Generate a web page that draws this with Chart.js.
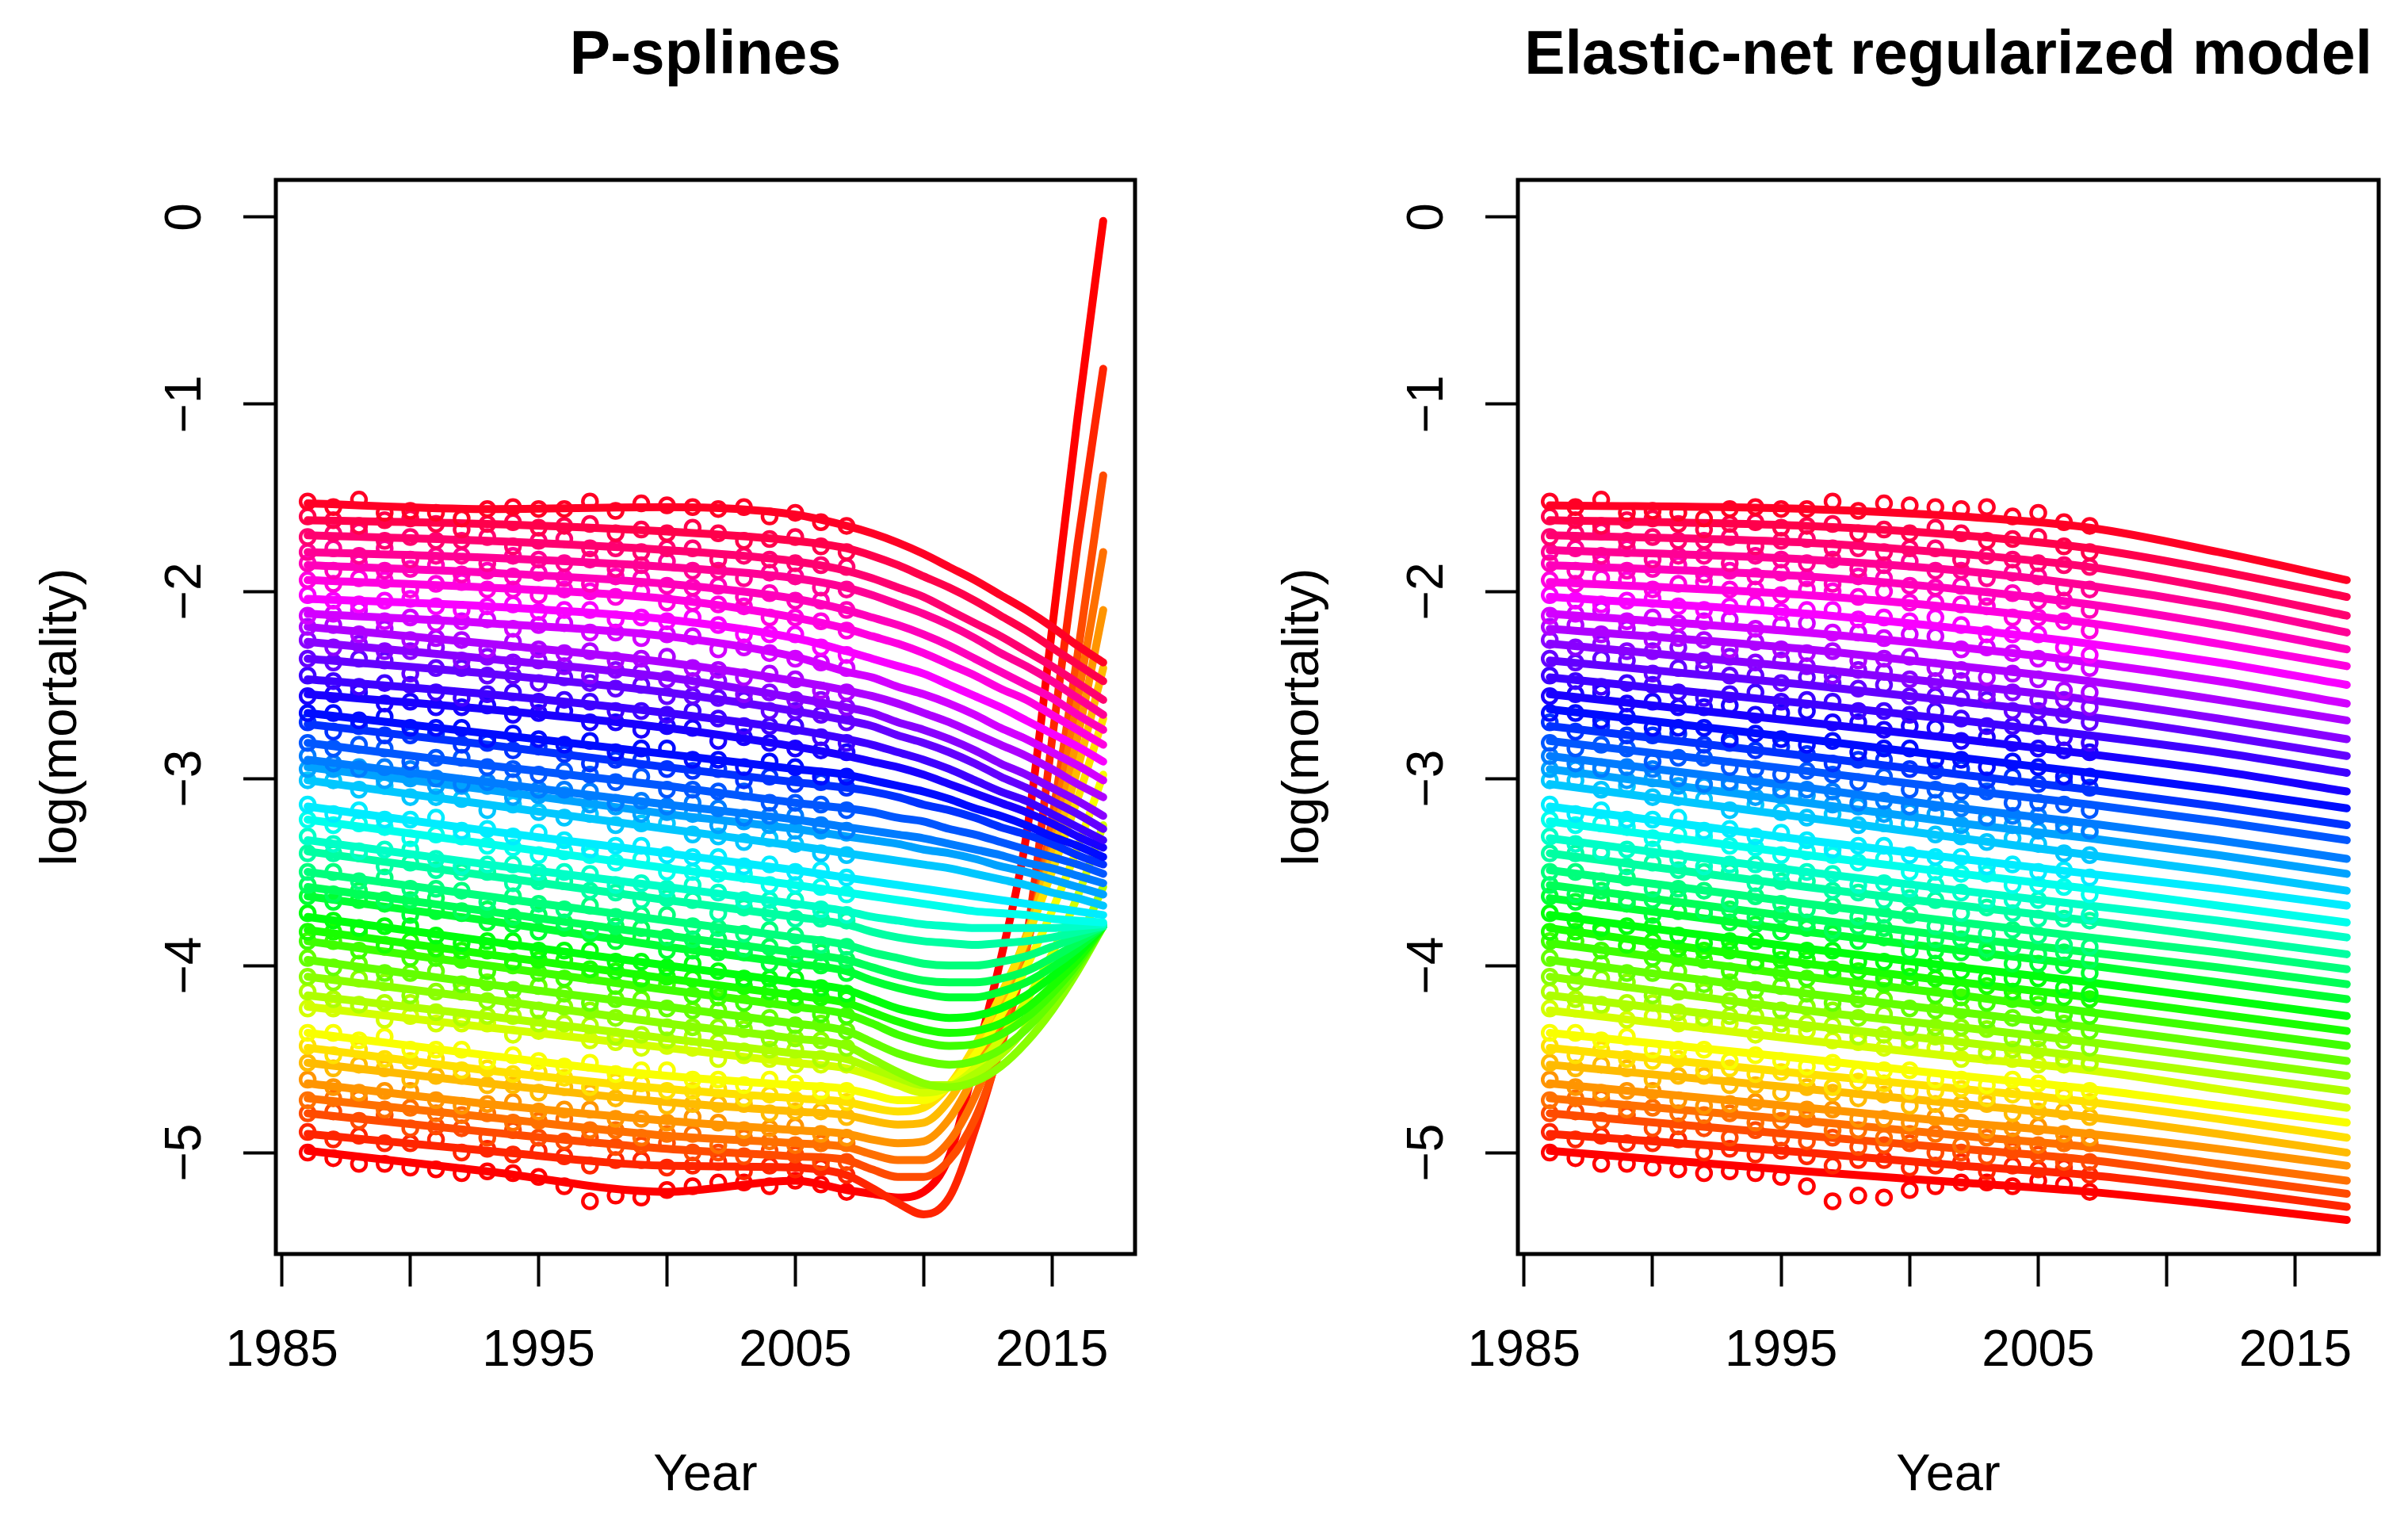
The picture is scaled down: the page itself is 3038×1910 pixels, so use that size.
<!DOCTYPE html>
<html>
<head>
<meta charset="UTF-8">
<title>P-splines vs Elastic-net regularized model</title>
<script src="https://cdn.jsdelivr.net/npm/chart.js@4/dist/chart.umd.min.js"></script>
<style>
  html, body { margin: 0; padding: 0; background: #fff; }
  .panel { position: absolute; top: 0; width: 1519px; height: 1910px; }
</style>
</head>
<body>
<div class="panel" style="left:0"><canvas id="left" width="1519" height="1910"></canvas></div>
<div class="panel" style="left:1519px"><canvas id="right" width="1519" height="1910"></canvas></div>
<script>
// years of the observed log death rates (circles)
const obsYears = [1986, 1987, 1988, 1989, 1990, 1991, 1992, 1993, 1994, 1995, 1996,
  1997, 1998, 1999, 2000, 2001, 2002, 2003, 2004, 2005, 2006, 2007];
// years at which the fitted curves are read
const psYears = [1986, 1993, 2000, 2005, 2007, 2008, 2009, 2010, 2011, 2012, 2013, 2014, 2015, 2016, 2017];
const enYears = [1986, 1996, 2002, 2007, 2012, 2017];

const xTicks = [1985, 1990, 1995, 2000, 2005, 2010, 2015];
const xTickLabels = ['1985', '', '1995', '', '2005', '', '2015'];
const yTicks = [0, -1, -2, -3, -4, -5];

// observed log(mortality), one row per age (lowest row = youngest age)
const obs = [
  [-5.00, -5.03, -5.06, -5.06, -5.08, -5.09, -5.11, -5.10, -5.11, -5.13, -5.18, -5.26, -5.23, -5.24, -5.20, -5.18, -5.16, -5.16, -5.18, -5.15, -5.17, -5.21],
  [-4.89, -4.93, -4.91, -4.95, -4.95, -4.93, -5.00, -4.98, -5.01, -4.99, -5.02, -5.07, -5.04, -5.04, -5.08, -5.07, -5.05, -5.10, -5.07, -5.09, -5.08, -5.12],
  [-4.79, -4.78, -4.83, -4.80, -4.87, -4.86, -4.87, -4.92, -4.88, -4.92, -4.94, -4.92, -4.97, -4.96, -4.95, -5.00, -5.00, -5.02, -4.99, -5.01, -5.05, -5.05],
  [-4.72, -4.71, -4.71, -4.77, -4.76, -4.79, -4.80, -4.79, -4.84, -4.83, -4.82, -4.88, -4.88, -4.92, -4.90, -4.90, -4.96, -4.92, -4.94, -4.96, -4.95, -4.95],
  [-4.61, -4.65, -4.68, -4.67, -4.67, -4.72, -4.75, -4.74, -4.73, -4.78, -4.77, -4.77, -4.82, -4.82, -4.84, -4.81, -4.84, -4.88, -4.87, -4.86, -4.90, -4.92],
  [-4.52, -4.55, -4.53, -4.55, -4.61, -4.59, -4.59, -4.64, -4.64, -4.68, -4.65, -4.68, -4.71, -4.69, -4.75, -4.74, -4.74, -4.74, -4.79, -4.78, -4.78, -4.81],
  [-4.43, -4.48, -4.45, -4.50, -4.51, -4.50, -4.56, -4.55, -4.58, -4.57, -4.60, -4.65, -4.62, -4.63, -4.67, -4.67, -4.66, -4.71, -4.69, -4.72, -4.70, -4.73],
  [-4.36, -4.36, -4.40, -4.38, -4.45, -4.45, -4.45, -4.51, -4.48, -4.51, -4.54, -4.52, -4.58, -4.56, -4.56, -4.61, -4.61, -4.64, -4.61, -4.63, -4.67, -4.67],
  [-4.23, -4.23, -4.22, -4.29, -4.27, -4.31, -4.31, -4.31, -4.37, -4.35, -4.35, -4.40, -4.41, -4.44, -4.43, -4.44, -4.50, -4.48, -4.50, -4.53, -4.53, -4.53],
  [-4.14, -4.18, -4.21, -4.20, -4.20, -4.25, -4.28, -4.27, -4.27, -4.31, -4.31, -4.32, -4.38, -4.37, -4.40, -4.38, -4.41, -4.46, -4.45, -4.45, -4.50, -4.52],
  [-4.06, -4.09, -4.07, -4.09, -4.16, -4.14, -4.14, -4.19, -4.20, -4.24, -4.22, -4.24, -4.28, -4.26, -4.33, -4.33, -4.33, -4.34, -4.39, -4.39, -4.40, -4.44],
  [-3.96, -4.01, -3.99, -4.04, -4.04, -4.03, -4.10, -4.09, -4.13, -4.11, -4.15, -4.20, -4.18, -4.18, -4.23, -4.24, -4.24, -4.29, -4.28, -4.32, -4.31, -4.35],
  [-3.87, -3.87, -3.92, -3.90, -3.96, -3.96, -3.97, -4.03, -4.00, -4.04, -4.07, -4.05, -4.11, -4.10, -4.10, -4.16, -4.17, -4.20, -4.18, -4.21, -4.26, -4.27],
  [-3.82, -3.82, -3.82, -3.89, -3.87, -3.91, -3.92, -3.92, -3.98, -3.97, -3.97, -4.02, -4.03, -4.07, -4.06, -4.07, -4.14, -4.11, -4.14, -4.17, -4.17, -4.18],
  [-3.72, -3.76, -3.80, -3.79, -3.79, -3.84, -3.88, -3.87, -3.87, -3.92, -3.92, -3.92, -3.98, -3.98, -4.01, -3.99, -4.03, -4.07, -4.07, -4.07, -4.12, -4.15],
  [-3.63, -3.66, -3.65, -3.67, -3.73, -3.71, -3.72, -3.77, -3.78, -3.82, -3.80, -3.83, -3.87, -3.85, -3.92, -3.92, -3.93, -3.93, -3.99, -3.99, -4.00, -4.04],
  [-3.57, -3.62, -3.60, -3.65, -3.65, -3.64, -3.71, -3.70, -3.74, -3.73, -3.77, -3.81, -3.79, -3.80, -3.85, -3.86, -3.86, -3.91, -3.90, -3.94, -3.93, -3.97],
  [-3.50, -3.50, -3.55, -3.53, -3.59, -3.59, -3.60, -3.66, -3.63, -3.67, -3.70, -3.68, -3.74, -3.73, -3.73, -3.79, -3.80, -3.83, -3.81, -3.84, -3.89, -3.90],
  [-3.40, -3.40, -3.40, -3.47, -3.45, -3.49, -3.50, -3.50, -3.56, -3.55, -3.55, -3.60, -3.61, -3.65, -3.64, -3.65, -3.72, -3.69, -3.72, -3.75, -3.75, -3.76],
  [-3.31, -3.35, -3.39, -3.38, -3.38, -3.43, -3.47, -3.46, -3.46, -3.50, -3.50, -3.51, -3.57, -3.56, -3.59, -3.57, -3.61, -3.65, -3.65, -3.65, -3.70, -3.73],
  [-3.22, -3.25, -3.24, -3.26, -3.32, -3.30, -3.31, -3.36, -3.37, -3.41, -3.39, -3.41, -3.45, -3.43, -3.50, -3.50, -3.51, -3.51, -3.57, -3.57, -3.58, -3.62],
  [-3.14, -3.19, -3.17, -3.22, -3.22, -3.21, -3.28, -3.27, -3.31, -3.29, -3.33, -3.38, -3.36, -3.36, -3.41, -3.42, -3.42, -3.47, -3.46, -3.50, -3.49, -3.53],
  [-3.01, -3.01, -3.06, -3.04, -3.10, -3.10, -3.11, -3.17, -3.14, -3.18, -3.21, -3.19, -3.25, -3.24, -3.24, -3.30, -3.31, -3.34, -3.32, -3.35, -3.40, -3.41],
  [-2.95, -2.95, -2.94, -3.01, -3.00, -3.04, -3.04, -3.04, -3.10, -3.09, -3.09, -3.14, -3.15, -3.19, -3.18, -3.19, -3.25, -3.23, -3.25, -3.28, -3.28, -3.29],
  [-2.88, -2.92, -2.95, -2.94, -2.95, -3.00, -3.03, -3.02, -3.02, -3.06, -3.06, -3.07, -3.13, -3.12, -3.15, -3.13, -3.16, -3.21, -3.20, -3.20, -3.25, -3.28],
  [-2.81, -2.84, -2.82, -2.84, -2.91, -2.89, -2.89, -2.94, -2.95, -2.98, -2.96, -2.98, -3.02, -2.99, -3.06, -3.06, -3.07, -3.07, -3.13, -3.13, -3.14, -3.17],
  [-2.70, -2.75, -2.72, -2.77, -2.77, -2.76, -2.82, -2.81, -2.85, -2.83, -2.87, -2.92, -2.90, -2.90, -2.95, -2.96, -2.95, -3.01, -2.99, -3.03, -3.02, -3.05],
  [-2.65, -2.65, -2.69, -2.67, -2.73, -2.73, -2.73, -2.79, -2.76, -2.79, -2.82, -2.80, -2.86, -2.84, -2.84, -2.90, -2.90, -2.94, -2.91, -2.94, -2.99, -2.99],
  [-2.56, -2.55, -2.54, -2.60, -2.59, -2.62, -2.62, -2.61, -2.66, -2.65, -2.64, -2.70, -2.70, -2.74, -2.72, -2.73, -2.80, -2.78, -2.81, -2.84, -2.85, -2.86],
  [-2.45, -2.48, -2.51, -2.49, -2.50, -2.54, -2.57, -2.55, -2.54, -2.59, -2.58, -2.59, -2.64, -2.64, -2.66, -2.64, -2.68, -2.72, -2.72, -2.72, -2.78, -2.81],
  [-2.36, -2.38, -2.36, -2.37, -2.44, -2.41, -2.41, -2.45, -2.45, -2.49, -2.46, -2.49, -2.52, -2.50, -2.56, -2.56, -2.57, -2.58, -2.64, -2.64, -2.66, -2.70],
  [-2.26, -2.30, -2.28, -2.32, -2.32, -2.30, -2.37, -2.35, -2.38, -2.37, -2.40, -2.45, -2.42, -2.43, -2.47, -2.48, -2.48, -2.55, -2.54, -2.58, -2.58, -2.62],
  [-2.19, -2.18, -2.23, -2.20, -2.26, -2.25, -2.26, -2.31, -2.27, -2.31, -2.33, -2.32, -2.37, -2.36, -2.35, -2.41, -2.42, -2.46, -2.44, -2.47, -2.53, -2.54],
  [-2.13, -2.12, -2.10, -2.16, -2.14, -2.17, -2.16, -2.15, -2.20, -2.18, -2.17, -2.22, -2.22, -2.25, -2.23, -2.24, -2.31, -2.30, -2.33, -2.36, -2.38, -2.41],
  [-2.02, -2.05, -2.07, -2.05, -2.04, -2.08, -2.10, -2.08, -2.07, -2.11, -2.10, -2.10, -2.15, -2.14, -2.16, -2.14, -2.18, -2.23, -2.23, -2.23, -2.30, -2.34],
  [-1.94, -1.96, -1.93, -1.94, -1.99, -1.96, -1.95, -1.99, -1.99, -2.02, -1.99, -2.00, -2.03, -2.00, -2.06, -2.06, -2.07, -2.08, -2.14, -2.14, -2.16, -2.21],
  [-1.85, -1.89, -1.85, -1.89, -1.88, -1.86, -1.91, -1.89, -1.92, -1.90, -1.93, -1.96, -1.92, -1.93, -1.97, -1.98, -1.97, -2.03, -2.01, -2.05, -2.05, -2.10],
  [-1.79, -1.77, -1.81, -1.77, -1.83, -1.81, -1.81, -1.85, -1.81, -1.83, -1.85, -1.83, -1.88, -1.86, -1.84, -1.89, -1.89, -1.93, -1.90, -1.92, -1.98, -1.99],
  [-1.71, -1.69, -1.68, -1.73, -1.71, -1.73, -1.73, -1.71, -1.76, -1.73, -1.72, -1.77, -1.77, -1.79, -1.77, -1.77, -1.83, -1.81, -1.83, -1.85, -1.86, -1.87],
  [-1.60, -1.62, -1.65, -1.62, -1.61, -1.64, -1.67, -1.64, -1.63, -1.66, -1.65, -1.64, -1.69, -1.67, -1.69, -1.66, -1.69, -1.73, -1.72, -1.71, -1.76, -1.79],
  [-1.52, -1.55, -1.51, -1.58, -1.57, -1.58, -1.61, -1.56, -1.55, -1.56, -1.56, -1.52, -1.57, -1.53, -1.54, -1.55, -1.56, -1.55, -1.60, -1.58, -1.63, -1.65]
];

// P-spline fit and forecast, read at psYears
const psFit = [
  [-4.99, -5.10, -5.21, -5.15, -5.20, -5.22, -5.24, -5.21, -5.02, -4.52, -3.97, -3.31, -2.21, -1.07, -0.02],
  [-4.90, -4.99, -5.07, -5.08, -5.12, -5.19, -5.27, -5.33, -5.24, -4.88, -4.42, -3.87, -2.80, -1.75, -0.81],
  [-4.79, -4.89, -4.98, -5.02, -5.04, -5.09, -5.13, -5.13, -5.04, -4.82, -4.44, -3.92, -3.22, -2.34, -1.38],
  [-4.71, -4.81, -4.91, -4.95, -4.97, -5.01, -5.04, -5.04, -4.94, -4.70, -4.35, -3.90, -3.30, -2.58, -1.79],
  [-4.63, -4.74, -4.83, -4.88, -4.90, -4.93, -4.95, -4.94, -4.82, -4.58, -4.26, -3.86, -3.38, -2.78, -2.10],
  [-4.52, -4.63, -4.73, -4.78, -4.80, -4.83, -4.85, -4.84, -4.72, -4.49, -4.19, -3.84, -3.42, -2.95, -2.41],
  [-4.44, -4.56, -4.66, -4.71, -4.73, -4.76, -4.78, -4.76, -4.64, -4.43, -4.16, -3.86, -3.50, -3.11, -2.68],
  [-4.36, -4.48, -4.59, -4.64, -4.66, -4.69, -4.72, -4.72, -4.64, -4.48, -4.27, -4.01, -3.71, -3.37, -2.98],
  [-4.22, -4.33, -4.44, -4.52, -4.55, -4.59, -4.64, -4.68, -4.65, -4.55, -4.39, -4.19, -3.94, -3.63, -3.25],
  [-4.16, -4.27, -4.39, -4.47, -4.50, -4.55, -4.60, -4.64, -4.64, -4.58, -4.48, -4.33, -4.13, -3.88, -3.58],
  [-4.06, -4.18, -4.31, -4.39, -4.43, -4.50, -4.57, -4.63, -4.65, -4.62, -4.54, -4.41, -4.24, -4.03, -3.79],
  [-3.97, -4.10, -4.22, -4.31, -4.35, -4.41, -4.47, -4.51, -4.53, -4.51, -4.45, -4.34, -4.19, -4.01, -3.79],
  [-3.87, -4.00, -4.13, -4.22, -4.26, -4.31, -4.37, -4.41, -4.43, -4.42, -4.37, -4.28, -4.15, -3.99, -3.79],
  [-3.81, -3.94, -4.07, -4.16, -4.20, -4.25, -4.30, -4.34, -4.36, -4.35, -4.31, -4.23, -4.11, -3.97, -3.79],
  [-3.74, -3.87, -4.00, -4.09, -4.13, -4.18, -4.23, -4.26, -4.28, -4.27, -4.23, -4.16, -4.06, -3.94, -3.79],
  [-3.63, -3.76, -3.90, -3.99, -4.03, -4.08, -4.12, -4.15, -4.17, -4.17, -4.14, -4.09, -4.01, -3.91, -3.79],
  [-3.58, -3.71, -3.84, -3.93, -3.97, -4.01, -4.05, -4.08, -4.09, -4.09, -4.07, -4.03, -3.96, -3.88, -3.79],
  [-3.50, -3.63, -3.76, -3.85, -3.89, -3.93, -3.96, -3.99, -4.00, -4.00, -3.98, -3.95, -3.90, -3.85, -3.79],
  [-3.39, -3.52, -3.65, -3.74, -3.78, -3.82, -3.85, -3.87, -3.88, -3.89, -3.88, -3.87, -3.85, -3.82, -3.79],
  [-3.33, -3.46, -3.58, -3.67, -3.71, -3.74, -3.76, -3.78, -3.79, -3.80, -3.80, -3.80, -3.80, -3.79, -3.78],
  [-3.22, -3.35, -3.48, -3.57, -3.61, -3.63, -3.65, -3.67, -3.69, -3.71, -3.72, -3.73, -3.75, -3.76, -3.77],
  [-3.15, -3.28, -3.40, -3.49, -3.53, -3.55, -3.57, -3.59, -3.61, -3.63, -3.65, -3.67, -3.69, -3.71, -3.73],
  [-3.01, -3.14, -3.27, -3.36, -3.40, -3.42, -3.44, -3.46, -3.48, -3.51, -3.54, -3.57, -3.61, -3.64, -3.68],
  [-2.94, -3.06, -3.19, -3.27, -3.31, -3.33, -3.35, -3.38, -3.40, -3.43, -3.47, -3.50, -3.54, -3.58, -3.62],
  [-2.90, -3.02, -3.14, -3.22, -3.26, -3.28, -3.30, -3.32, -3.35, -3.38, -3.41, -3.45, -3.48, -3.52, -3.56],
  [-2.81, -2.93, -3.04, -3.13, -3.16, -3.18, -3.21, -3.23, -3.27, -3.30, -3.34, -3.38, -3.42, -3.46, -3.51],
  [-2.71, -2.82, -2.94, -3.02, -3.05, -3.07, -3.10, -3.14, -3.17, -3.21, -3.26, -3.30, -3.35, -3.41, -3.46],
  [-2.65, -2.76, -2.87, -2.95, -2.98, -3.01, -3.04, -3.07, -3.11, -3.16, -3.20, -3.25, -3.31, -3.36, -3.42],
  [-2.55, -2.63, -2.73, -2.83, -2.88, -2.91, -2.94, -2.98, -3.03, -3.08, -3.13, -3.18, -3.24, -3.31, -3.37],
  [-2.47, -2.55, -2.65, -2.74, -2.79, -2.82, -2.86, -2.90, -2.95, -3.01, -3.07, -3.12, -3.19, -3.26, -3.33],
  [-2.36, -2.44, -2.54, -2.64, -2.69, -2.72, -2.77, -2.81, -2.86, -2.92, -2.99, -3.05, -3.12, -3.19, -3.27],
  [-2.27, -2.36, -2.46, -2.57, -2.62, -2.65, -2.70, -2.74, -2.79, -2.85, -2.92, -2.98, -3.05, -3.12, -3.20],
  [-2.19, -2.28, -2.38, -2.48, -2.53, -2.56, -2.60, -2.65, -2.70, -2.76, -2.82, -2.88, -2.95, -3.03, -3.10],
  [-2.12, -2.17, -2.24, -2.35, -2.43, -2.46, -2.51, -2.55, -2.60, -2.66, -2.73, -2.79, -2.86, -2.93, -3.01],
  [-2.04, -2.08, -2.15, -2.25, -2.32, -2.36, -2.40, -2.44, -2.50, -2.56, -2.62, -2.69, -2.76, -2.83, -2.91],
  [-1.94, -1.98, -2.04, -2.14, -2.20, -2.24, -2.28, -2.33, -2.39, -2.45, -2.52, -2.58, -2.66, -2.74, -2.82],
  [-1.86, -1.90, -1.96, -2.04, -2.10, -2.14, -2.18, -2.23, -2.29, -2.36, -2.43, -2.50, -2.57, -2.66, -2.74],
  [-1.79, -1.82, -1.87, -1.93, -1.98, -2.02, -2.07, -2.12, -2.18, -2.25, -2.33, -2.40, -2.48, -2.57, -2.66],
  [-1.70, -1.73, -1.78, -1.84, -1.89, -1.93, -1.98, -2.03, -2.10, -2.17, -2.24, -2.32, -2.40, -2.49, -2.58],
  [-1.62, -1.64, -1.68, -1.73, -1.77, -1.81, -1.86, -1.92, -1.98, -2.05, -2.13, -2.21, -2.30, -2.39, -2.48],
  [-1.53, -1.56, -1.55, -1.59, -1.65, -1.69, -1.74, -1.80, -1.87, -1.94, -2.02, -2.10, -2.19, -2.29, -2.38]
];

// elastic-net fit and forecast, read at enYears
const enFit = [
  [-4.99, -5.10, -5.16, -5.21, -5.28, -5.36],
  [-4.90, -5.00, -5.07, -5.12, -5.20, -5.29],
  [-4.79, -4.91, -4.98, -5.04, -5.13, -5.22],
  [-4.71, -4.83, -4.91, -4.97, -5.06, -5.15],
  [-4.63, -4.76, -4.84, -4.90, -4.98, -5.07],
  [-4.53, -4.66, -4.74, -4.81, -4.90, -5.00],
  [-4.44, -4.58, -4.66, -4.73, -4.82, -4.92],
  [-4.36, -4.50, -4.59, -4.66, -4.75, -4.84],
  [-4.24, -4.40, -4.49, -4.56, -4.66, -4.76],
  [-4.16, -4.32, -4.41, -4.49, -4.58, -4.67],
  [-4.06, -4.24, -4.33, -4.41, -4.50, -4.59],
  [-3.97, -4.15, -4.25, -4.33, -4.42, -4.51],
  [-3.88, -4.06, -4.16, -4.25, -4.34, -4.43],
  [-3.80, -3.99, -4.09, -4.17, -4.26, -4.35],
  [-3.73, -3.91, -4.01, -4.09, -4.18, -4.27],
  [-3.64, -3.82, -3.92, -4.00, -4.09, -4.18],
  [-3.57, -3.75, -3.85, -3.93, -4.01, -4.10],
  [-3.49, -3.67, -3.77, -3.85, -3.93, -4.02],
  [-3.40, -3.58, -3.68, -3.76, -3.85, -3.94],
  [-3.32, -3.50, -3.60, -3.68, -3.76, -3.85],
  [-3.23, -3.41, -3.51, -3.59, -3.68, -3.77],
  [-3.15, -3.33, -3.43, -3.51, -3.59, -3.68],
  [-3.03, -3.21, -3.32, -3.41, -3.50, -3.60],
  [-2.95, -3.13, -3.24, -3.32, -3.41, -3.51],
  [-2.88, -3.05, -3.16, -3.24, -3.33, -3.43],
  [-2.80, -2.96, -3.06, -3.14, -3.23, -3.33],
  [-2.72, -2.88, -2.98, -3.06, -3.15, -3.25],
  [-2.63, -2.79, -2.89, -2.97, -3.06, -3.16],
  [-2.55, -2.70, -2.79, -2.87, -2.96, -3.07],
  [-2.46, -2.60, -2.69, -2.77, -2.86, -2.97],
  [-2.37, -2.50, -2.59, -2.67, -2.77, -2.88],
  [-2.28, -2.41, -2.50, -2.58, -2.68, -2.79],
  [-2.20, -2.31, -2.40, -2.48, -2.58, -2.69],
  [-2.12, -2.22, -2.30, -2.38, -2.48, -2.60],
  [-2.03, -2.12, -2.20, -2.28, -2.38, -2.50],
  [-1.95, -2.02, -2.09, -2.17, -2.28, -2.40],
  [-1.86, -1.92, -1.99, -2.07, -2.18, -2.31],
  [-1.78, -1.83, -1.89, -1.97, -2.08, -2.22],
  [-1.70, -1.74, -1.80, -1.87, -1.99, -2.13],
  [-1.62, -1.65, -1.70, -1.77, -1.89, -2.03],
  [-1.54, -1.56, -1.60, -1.66, -1.79, -1.94]
];

const FONT = '"Liberation Sans", Arial, Helvetica, sans-serif';
const nAges = obs.length;

function ageColor(i) {
  return 'hsl(' + (i * 360 / nAges).toFixed(2) + ', 100%, 50%)';
}

function buildDatasets(fitYears, fit) {
  const sets = [];
  for (let i = 0; i < nAges; i++) {
    const c = ageColor(i);
    sets.push({
      data: obsYears.map((x, k) => ({ x: x, y: obs[i][k] })),
      showLine: false,
      pointRadius: 9,
      pointBorderWidth: 4.5,
      pointBorderColor: c,
      pointBackgroundColor: 'rgba(0,0,0,0)',
      order: 2 * (nAges - 1 - i) + 1
    });
    sets.push({
      data: fitYears.map((x, k) => ({ x: x, y: fit[i][k] })),
      borderColor: c,
      borderWidth: 10,
      pointRadius: 0,
      cubicInterpolationMode: 'monotone',
      borderCapStyle: 'round',
      borderJoinStyle: 'round',
      order: 2 * (nAges - 1 - i)
    });
  }
  return sets;
}

// R style frame, tick labels and titles
const rDecor = {
  id: 'rDecor',
  afterDraw(chart, args, opts) {
    const ctx = chart.ctx;
    const a = chart.chartArea;
    const xs = chart.scales.x, ys = chart.scales.y;
    const cx = (a.left + a.right) / 2;
    ctx.save();
    ctx.strokeStyle = '#000';
    ctx.lineWidth = 5;
    ctx.strokeRect(a.left, a.top, a.right - a.left, a.bottom - a.top);
    ctx.fillStyle = '#000';
    ctx.textAlign = 'center';
    ctx.textBaseline = 'alphabetic';
    ctx.font = '64px ' + FONT;
    xTicks.forEach((v, k) => {
      if (xTickLabels[k]) ctx.fillText(xTickLabels[k], xs.getPixelForValue(v), 1723);
    });
    yTicks.forEach((v) => {
      ctx.save();
      ctx.translate(a.left - 95, ys.getPixelForValue(v));
      ctx.rotate(-Math.PI / 2);
      ctx.fillText(v < 0 ? '\u2212' + Math.abs(v) : String(v), 0, 0);
      ctx.restore();
    });
    ctx.font = '65px ' + FONT;
    ctx.fillText('Year', cx, 1880);
    ctx.save();
    ctx.translate(a.left - 252, (a.top + a.bottom) / 2);
    ctx.rotate(-Math.PI / 2);
    ctx.fillText('log(mortality)', 0, 0);
    ctx.restore();
    ctx.font = 'bold 77px ' + FONT;
    ctx.fillText(opts.title, cx, 93);
    ctx.restore();
  }
};

function makePanel(id, title, fitYears, fit, yWidth, padRight) {
  return new Chart(document.getElementById(id), {
    type: 'line',
    data: { datasets: buildDatasets(fitYears, fit) },
    options: {
      responsive: false,
      animation: false,
      devicePixelRatio: 1,
      layout: { padding: { top: 227, right: padRight, bottom: 0, left: 0 } },
      plugins: { legend: { display: false }, tooltip: { enabled: false }, rDecor: { title: title } },
      scales: {
        x: {
          type: 'linear', min: 1984.76, max: 2018.24,
          afterBuildTicks: (s) => { s.ticks = xTicks.map((v) => ({ value: v })); },
          afterFit: (s) => { s.height = 328; },
          ticks: { display: false },
          border: { display: false },
          grid: { drawOnChartArea: false, drawTicks: true, tickLength: 41, tickWidth: 4, tickColor: '#000' }
        },
        y: {
          type: 'linear', min: -5.542, max: 0.199,
          afterBuildTicks: (s) => { s.ticks = yTicks.map((v) => ({ value: v })); },
          afterFit: (s) => { s.width = yWidth; },
          ticks: { display: false },
          border: { display: false },
          grid: { drawOnChartArea: false, drawTicks: true, tickLength: 41, tickWidth: 4, tickColor: '#000' }
        }
      }
    },
    plugins: [rDecor]
  });
}

makePanel('left', 'P-splines', psYears, psFit, 348, 87);
makePanel('right', 'Elastic-net regularized model', enYears, enFit, 396, 37);
</script>
</body>
</html>
